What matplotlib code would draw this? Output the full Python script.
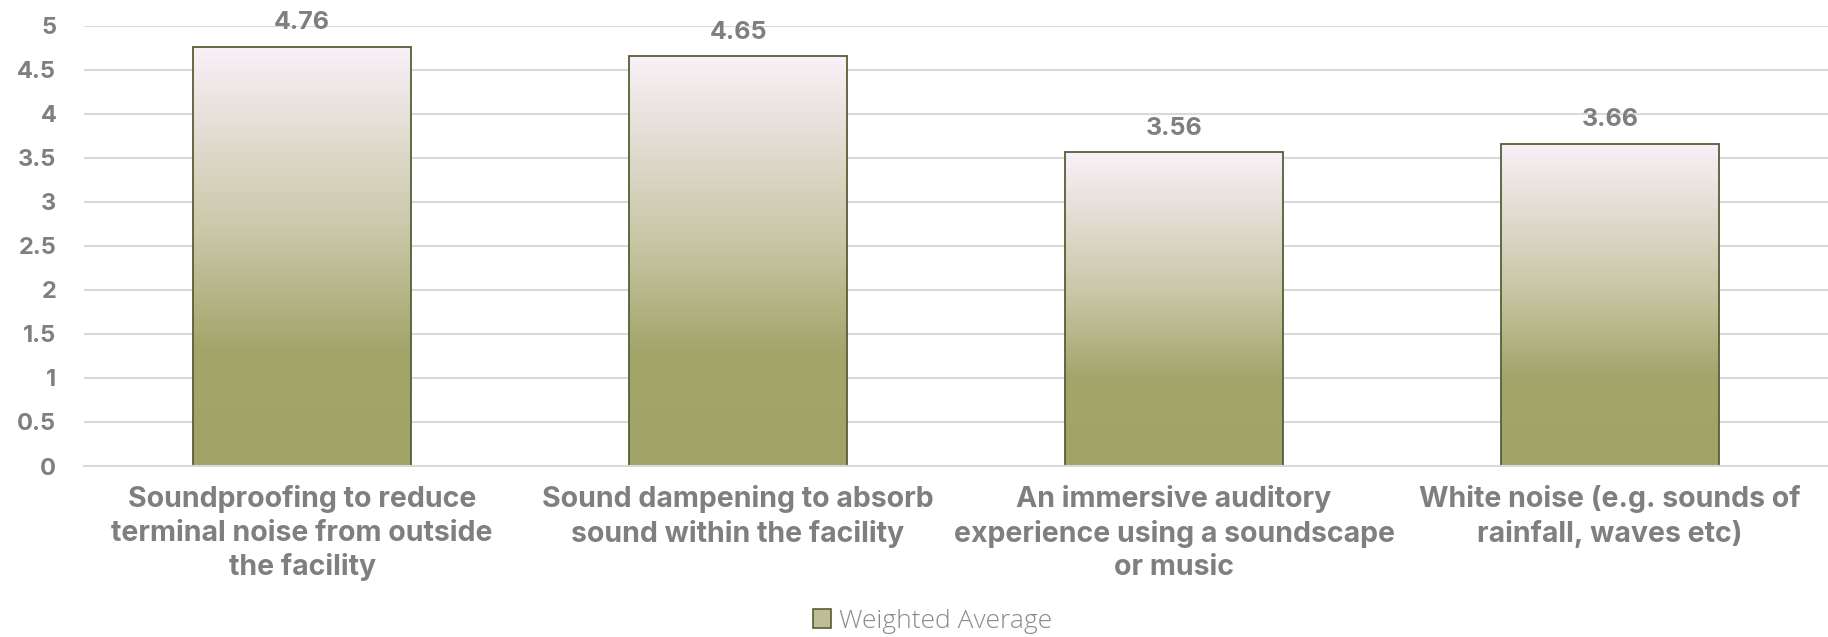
import matplotlib
matplotlib.use("Agg")
import matplotlib.pyplot as plt
import numpy as np
from matplotlib.colors import LinearSegmentedColormap
from matplotlib.patches import Rectangle

categories = [
    "Soundproofing to reduce\nterminal noise from outside\nthe facility",
    "Sound dampening to absorb\nsound within the facility",
    "An immersive auditory\nexperience using a soundscape\nor music",
    "White noise (e.g. sounds of\nrainfall, waves etc)",
]
values = [4.76, 4.65, 3.56, 3.66]
series_name = "Weighted Average"
yticks = [0, 0.5, 1, 1.5, 2, 2.5, 3, 3.5, 4, 4.5, 5]
ytick_labels = ["0", "0.5", "1", "1.5", "2", "2.5", "3", "3.5", "4", "4.5", "5"]

gray = "#7F7F7F"
edge = "#5A5C36"
FONT = "Inter"
cmap = LinearSegmentedColormap.from_list(
    "olive",
    [(0.0, "#A0A468"), (0.28, "#A2A66B"), (0.55, "#C8C7A6"), (0.8, "#E2DED4"), (1.0, "#F8F1F8")],
)

fig = plt.figure(figsize=(18.28, 6.37), dpi=100)
ax = fig.add_axes([0.046, 0.2684, 0.954, 0.6913])
x = np.arange(len(values))
bars = ax.bar(x, values, width=0.5, facecolor="none", edgecolor=edge, linewidth=1.3, zorder=3)
grad = np.linspace(0, 1, 256).reshape(-1, 1)
for b in bars:
    x0, w, h = b.get_x(), b.get_width(), b.get_height()
    im = ax.imshow(grad, cmap=cmap, origin="lower", aspect="auto",
                   extent=[x0, x0 + w, 0, h], zorder=2)
    clip = Rectangle((x0, 0), w, h, transform=ax.transData)
    im.set_clip_path(clip)
    ax.text(x0 + w / 2, h + 0.14, f"{h:.2f}", ha="center", va="bottom",
            fontsize=18, fontweight="bold", color=gray, family=FONT, clip_on=False)

ax.set_xlim(-0.5, len(values) - 0.5)
ax.set_ylim(0, 5)
ax.set_yticks(yticks)
ax.set_yticklabels(ytick_labels, fontsize=17, fontweight="bold", color=gray, family=FONT)
ax.set_xticks(x)
ax.set_xticklabels(categories, fontsize=20.5, fontweight="bold", color=gray, family=FONT,
                   linespacing=1.3)
ax.tick_params(axis="both", length=0)
ax.tick_params(axis="y", pad=20)
ax.tick_params(axis="x", pad=14)
ax.grid(axis="y", color="#D9D9D9", linewidth=1.5, zorder=0)
ax.set_axisbelow(True)
for s in ["top", "right", "left"]:
    ax.spines[s].set_visible(False)
ax.spines["bottom"].set_color("#D9D9D9")
ax.spines["bottom"].set_linewidth(1.5)
ax.spines["bottom"].set_zorder(4)

handle = Rectangle((0, 0), 1, 1, facecolor="#BDBE96", edgecolor=edge, linewidth=1.2)
fig.legend([handle], [series_name], loc="center", bbox_to_anchor=(0.51, 0.025),
           frameon=False, labelcolor="#8A8A8A", handlelength=0.7, handleheight=0.7,
           handletextpad=0.3, prop={"family": "Open Sans", "size": 19, "weight": "light"})

fig.savefig("out.png", dpi=100)
